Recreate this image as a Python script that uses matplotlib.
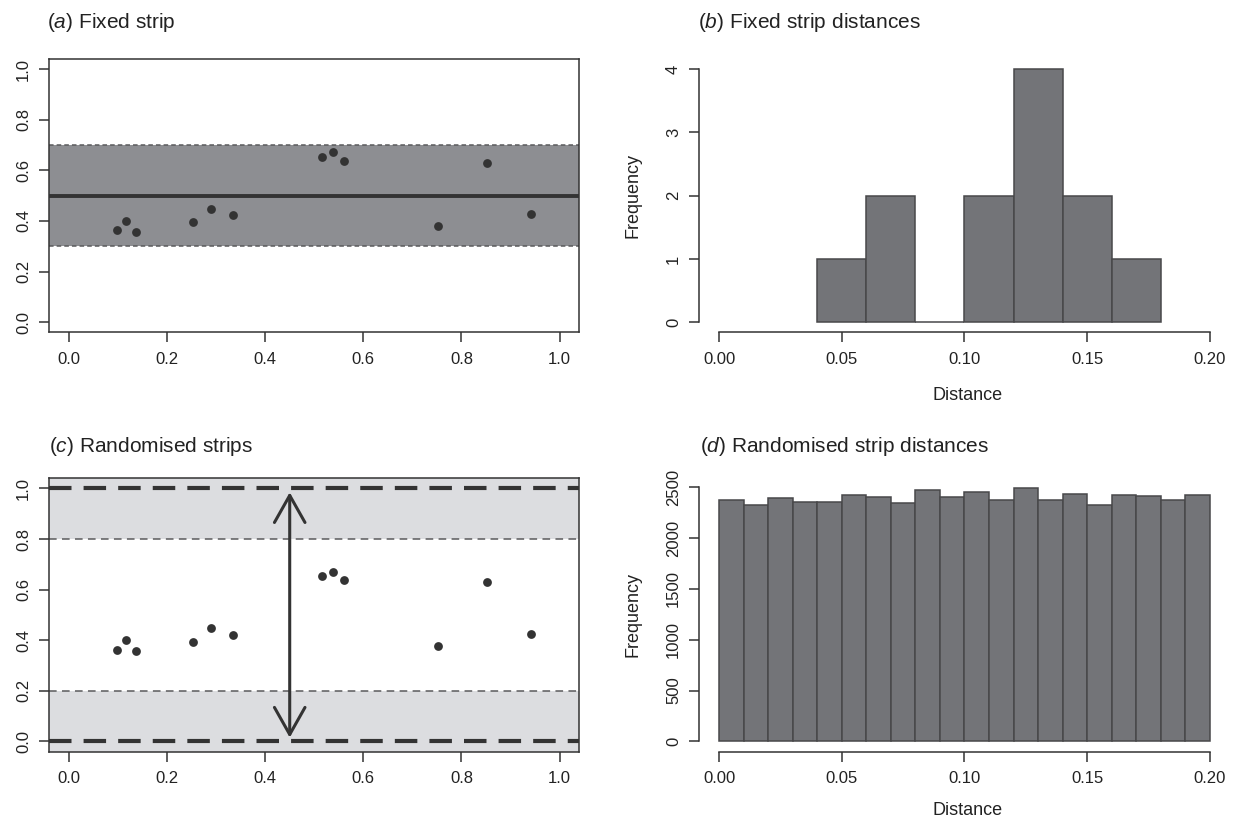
import numpy as np
import matplotlib
matplotlib.use('Agg')
import matplotlib.pyplot as plt

plt.rcParams['font.family'] = ['Liberation Sans', 'DejaVu Sans']
plt.rcParams['mathtext.fontset'] = 'custom'
plt.rcParams['mathtext.rm'] = 'Liberation Sans'
plt.rcParams['mathtext.it'] = 'Liberation Sans:italic'

# points (same in panels a and c)
pt_x = [0.097, 0.117, 0.136, 0.253, 0.289, 0.334, 0.515, 0.539, 0.561, 0.753, 0.853, 0.942]
pt_y = [0.363, 0.399, 0.357, 0.395, 0.447, 0.422, 0.654, 0.671, 0.637, 0.379, 0.630, 0.426]

# fixed strip
strip_lo, strip_mid, strip_hi = 0.3, 0.5, 0.7
# randomised strip band
band_lo, band_hi = 0.2, 0.8
arrow_x = 0.45

# panel b histogram
b_edges = [0.04, 0.06, 0.08, 0.10, 0.12, 0.14, 0.16, 0.18]
b_counts = [1, 2, 0, 2, 4, 2, 1]

# panel d histogram (20 bins of 0.01)
d_edges = np.round(np.arange(0, 0.2001, 0.01), 2)
d_counts = [2376, 2320, 2395, 2356, 2359, 2425, 2405, 2343, 2477, 2408,
            2457, 2373, 2487, 2369, 2435, 2327, 2422, 2415, 2376, 2425]

dark = '#333333'
bar_col = '#737478'
bar_edge = '#48484a'
strip_col = '#8d8e92'
light_col = '#dcdde0'

fig = plt.figure(figsize=(12.35, 8.19), dpi=100)
ax_a = fig.add_axes([0.0399, 0.5943, 0.4291, 0.3335])
ax_b = fig.add_axes([0.5663, 0.5943, 0.4293, 0.3335])
ax_c = fig.add_axes([0.0399, 0.0824, 0.4291, 0.3335])
ax_d = fig.add_axes([0.5663, 0.0824, 0.4293, 0.3335])


def style_ticks(ax):
    ax.tick_params(axis='both', length=7.2, width=1.1, color=dark, labelsize=12,
                   labelcolor='#222222')
    ax.tick_params(axis='x', pad=7)
    ax.tick_params(axis='y', pad=6, labelrotation=90)
    for lab in ax.get_yticklabels():
        lab.set_va('center')


def box_panel(ax):
    ax.set_xlim(-0.04, 1.04)
    ax.set_ylim(-0.04, 1.04)
    ax.set_xticks([0, 0.2, 0.4, 0.6, 0.8, 1.0])
    ax.set_yticks([0, 0.2, 0.4, 0.6, 0.8, 1.0])
    ax.set_xticklabels(['0.0', '0.2', '0.4', '0.6', '0.8', '1.0'])
    ax.set_yticklabels(['0.0', '0.2', '0.4', '0.6', '0.8', '1.0'])
    for s in ax.spines.values():
        s.set_color(dark)
        s.set_linewidth(1.1)
    style_ticks(ax)


# (a) fixed strip
box_panel(ax_a)
ax_a.axhspan(strip_lo, strip_hi, color=strip_col, lw=0, zorder=1)
for yv in (strip_lo, strip_hi):
    ax_a.axhline(yv, color='#5a5a5c', lw=1.1, ls=(0, (3, 2)), zorder=2)
ax_a.axhline(strip_mid, color=dark, lw=2.8, zorder=2)
ax_a.scatter(pt_x, pt_y, s=40, color=dark, zorder=3, linewidths=0)

# (c) randomised strips
box_panel(ax_c)
ax_c.axhspan(-0.04, band_lo, color=light_col, lw=0, zorder=1)
ax_c.axhspan(band_hi, 1.04, color=light_col, lw=0, zorder=1)
for yv in (band_lo, band_hi):
    ax_c.axhline(yv, color='#5a5a5c', lw=1.1, ls=(0, (5, 3.5)), zorder=2)
for yv in (0.0, 1.0):
    ax_c.axhline(yv, color=dark, lw=3.0, ls=(0, (5.4, 2.9)), zorder=2)
ax_c.annotate('', xy=(arrow_x, 1.0 - 0.015), xytext=(arrow_x, 0.0 + 0.015),
              arrowprops=dict(arrowstyle='<->, head_length=1.95, head_width=1.1',
                              color=dark, lw=2.2, mutation_scale=10,
                              shrinkA=0, shrinkB=0), zorder=4)
ax_c.scatter(pt_x, pt_y, s=40, color=dark, zorder=3, linewidths=0)


def hist_panel(ax, edges, counts, yticks, ylabels):
    edges = np.asarray(edges)
    ax.bar(edges[:-1], counts, width=np.diff(edges), align='edge',
           color=bar_col, edgecolor=bar_edge, linewidth=1.1, zorder=2)
    ax.set_xlim(-0.008, 0.208)
    top = max(counts)
    ax.set_ylim(-0.04 * top, 1.04 * top)
    ax.set_xticks([0, 0.05, 0.10, 0.15, 0.20])
    ax.set_xticklabels(['0.00', '0.05', '0.10', '0.15', '0.20'])
    ax.set_yticks(yticks)
    ax.set_yticklabels(ylabels)
    for side in ('top', 'right'):
        ax.spines[side].set_visible(False)
    ax.spines['bottom'].set_bounds(0, 0.2)
    ax.spines['left'].set_bounds(yticks[0], yticks[-1])
    for side in ('bottom', 'left'):
        ax.spines[side].set_color(dark)
        ax.spines[side].set_linewidth(1.1)
    style_ticks(ax)
    ax.set_xlabel('Distance', fontsize=13, color='#222222')
    ax.xaxis.set_label_coords(0.505, -0.2)
    ax.set_ylabel('Frequency', fontsize=13, color='#222222')
    ax.yaxis.set_label_coords(-0.11, 0.5)


hist_panel(ax_b, b_edges, b_counts, [0, 1, 2, 3, 4], ['0', '1', '2', '3', '4'])
hist_panel(ax_d, d_edges, d_counts, [0, 500, 1000, 1500, 2000, 2500],
           ['0', '500', '1000', '1500', '2000', '2500'])
ax_d.xaxis.set_label_coords(0.505, -0.185)

title_kw = dict(fontsize=15, color='#222222', va='center', ha='left')
fig.text(0.038, 0.972, r'($\mathit{a}$) Fixed strip', **title_kw)
fig.text(0.565, 0.972, r'($\mathit{b}$) Fixed strip distances', **title_kw)
fig.text(0.040, 0.455, r'($\mathit{c}$) Randomised strips', **title_kw)
fig.text(0.567, 0.455, r'($\mathit{d}$) Randomised strip distances', **title_kw)

fig.savefig('out.png', dpi=100)
